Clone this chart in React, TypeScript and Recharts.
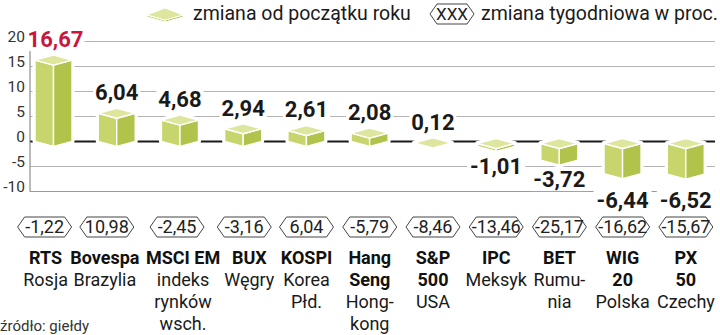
import React from "react";
import { BarChart, Bar, XAxis, YAxis, CartesianGrid, LabelList } from "recharts";

// dane: indeksy giełdowe, zmiana od początku roku i tygodniowa (w proc.)
const categories = ["RTS", "Bovespa", "MSCI EM", "BUX", "KOSPI", "Hang Seng", "S&P 500", "IPC", "BET", "WIG 20", "PX 50"];
const indexLines = [["RTS"], ["Bovespa"], ["MSCI EM"], ["BUX"], ["KOSPI"], ["Hang", "Seng"], ["S&P", "500"], ["IPC"], ["BET"], ["WIG", "20"], ["PX", "50"]];
const countryLines = [["Rosja"], ["Brazylia"], ["indeks", "rynków", "wsch."], ["Węgry"], ["Korea", "Płd."], ["Hong-", "kong"], ["USA"], ["Meksyk"], ["Rumu-", "nia"], ["Polska"], ["Czechy"]];
const ytdChange = [16.67, 6.04, 4.68, 2.94, 2.61, 2.08, 0.12, -1.01, -3.72, -6.44, -6.52];
const weeklyChange = [-1.22, 10.98, -2.45, -3.16, 6.04, -5.79, -8.46, -13.46, -25.17, -16.62, -15.67];
const yTicks = [-10, -5, 0, 5, 10, 15, 20];
const highlighted = "RTS";

// layout
const W = 720;
const H = 335;
const TOP = 41.5;
const PLOT_H = 150;
const PLOT_BOTTOM = TOP + PLOT_H;
const ZERO_Y = TOP + (20 / 30) * PLOT_H;
const FONT = "Roboto, 'Noto Sans', sans-serif";

// przesunięcia podpisów, żeby się nie nakładały
const tickNudge: Record<string, { hex: number; text: number }> = {
  RTS: { hex: -9, text: -8 },
  Bovespa: { hex: -10, text: -12 },
  "MSCI EM": { hex: -3, text: 3 },
  BUX: { hex: 1, text: 6 },
};

const fmt = (v: number) => v.toFixed(2).replace(".", ",");

const chartData = categories.map((name, i) => ({ name, ytd: ytdChange[i] }));

const C_TOP = "#dde69c";
const C_LEFT = "#c7d56c";
const C_RIGHT = "#b1c34b";

function Box3D(props: any) {
  const { x, y, width, height } = props;
  if (x == null || y == null) return null;
  const h = height || 0;
  const cx = x + width / 2;
  const top = Math.min(y, y + h);
  const bottom = Math.max(y, y + h);
  const ft = top + 7;
  const fb = Math.max(bottom + 5, ft);
  const l = x;
  const r = x + width;
  const outline = `${l},${ft - 5} ${cx},${ft - 10} ${r},${ft - 5} ${r},${fb - 5} ${cx},${fb} ${l},${fb - 5}`;
  return (
    <g>
      <polygon points={outline} fill="#fff" stroke="#fff" strokeWidth={5} strokeLinejoin="round" />
      <g stroke="#fff" strokeWidth={1.4} strokeLinejoin="round">
        <polygon points={`${l},${ft - 5} ${cx},${ft} ${cx},${fb} ${l},${fb - 5}`} fill={C_LEFT} />
        <polygon points={`${cx},${ft} ${r},${ft - 5} ${r},${fb - 5} ${cx},${fb}`} fill={C_RIGHT} />
        <polygon points={`${l},${ft - 5} ${cx},${ft - 10} ${r},${ft - 5} ${cx},${ft}`} fill={C_TOP} />
      </g>
    </g>
  );
}

function ValueLabel(props: any) {
  const { x, y, width, height, value, index } = props;
  if (x == null || value == null) return null;
  const h = height || 0;
  const top = Math.min(y, y + h);
  const bottom = Math.max(y, y + h);
  let base: number;
  if (value >= 0) {
    base = top - 11;
  } else {
    base = bottom + 27;
    if (base - 15 < PLOT_BOTTOM + 1 && base > PLOT_BOTTOM - 2) base = PLOT_BOTTOM + 16;
  }
  const txt = fmt(value);
  const tw = txt.length * 10.8;
  const isHot = categories[index] === highlighted;
  const cx = x + width / 2 + (isHot ? 2 : 0);
  return (
    <g>
      <rect x={cx - tw / 2 - 2} y={base - 17} width={tw + 4} height={21} fill="#fff" />
      <text
        x={cx}
        y={base}
        textAnchor="middle"
        fontFamily={FONT}
        fontWeight={700}
        fontSize={22}
        fill={isHot ? "#c8173f" : "#1a1a1a"}
      >
        {txt}
      </text>
    </g>
  );
}

function Hexagon({ cx, cy, w, h, label, size }: any) {
  const p = 7;
  const pts = `${cx - w / 2},${cy} ${cx - w / 2 + p},${cy - h / 2} ${cx + w / 2 - p},${cy - h / 2} ${cx + w / 2},${cy} ${cx + w / 2 - p},${cy + h / 2} ${cx - w / 2 + p},${cy + h / 2}`;
  return (
    <g>
      <polygon points={pts} fill="#fff" stroke="#444" strokeWidth={1} />
      <text x={cx} y={cy + size * 0.36} textAnchor="middle" fontFamily={FONT} fontSize={size} fill="#222">
        {label}
      </text>
    </g>
  );
}

function CategoryTick(props: any) {
  const { x, y, index } = props;
  const name = categories[index];
  const nudge = tickNudge[name] || { hex: 0, text: 0 };
  const bold = indexLines[index];
  const light = countryLines[index];
  const tx = x + nudge.text;
  return (
    <g>
      <Hexagon cx={x + nudge.hex} cy={y + 35.5} w={54} h={20} label={fmt(weeklyChange[index])} size={18} />
      {bold.map((s, i) => (
        <text key={"b" + i} x={tx} y={y + 72.5 + i * 22} textAnchor="middle" fontFamily={FONT} fontWeight={700} fontSize={18} fill="#111">
          {s}
        </text>
      ))}
      {light.map((s, i) => (
        <text key={"l" + i} x={tx} y={y + 72.5 + (bold.length + i) * 22} textAnchor="middle" fontFamily={FONT} fontSize={18} fill="#1a1a1a">
          {s}
        </text>
      ))}
    </g>
  );
}

function ValueTick(props: any) {
  const { y, payload } = props;
  return (
    <text x={25} y={y + 0.5} textAnchor="end" fontFamily={FONT} fontSize={15.5} fill="#333">
      {payload.value}
    </text>
  );
}

function GridLine(props: any) {
  const { x1, x2, y1 } = props;
  const isZero = Math.abs(y1 - ZERO_Y) < 1;
  const isBottom = Math.abs(y1 - PLOT_BOTTOM) < 1;
  return (
    <line
      x1={x1}
      x2={x2}
      y1={y1}
      y2={y1}
      stroke={isZero ? "#1a1a1a" : isBottom ? "#999" : "#b4b4b4"}
      strokeWidth={isZero ? 2 : 1.2}
    />
  );
}

export default function App() {
  return (
    <div style={{ position: "absolute", left: 0, top: 0, width: W, height: H, background: "#fff" }}>
      <BarChart width={W} height={H} data={chartData} margin={{ top: TOP, right: 5, left: 0, bottom: 0 }}>
        <CartesianGrid vertical={false} horizontal={GridLine as any} />
        <XAxis
          dataKey="name"
          interval={0}
          axisLine={false}
          tickLine={false}
          tickSize={0}
          tickMargin={0}
          height={H - PLOT_BOTTOM}
          padding={{ left: -8, right: -2.5 }}
          tick={<CategoryTick />}
        />
        <YAxis
          domain={[-10, 20]}
          ticks={yTicks}
          interval={0}
          width={30}
          axisLine={{ stroke: "#777", strokeWidth: 1 }}
          tickLine={false}
          tick={<ValueTick />}
        />
        <Bar dataKey="ytd" barSize={37} shape={<Box3D />} isAnimationActive={false}>
          <LabelList dataKey="ytd" content={<ValueLabel />} />
        </Bar>
      </BarChart>
      <svg width={W} height={H} style={{ position: "absolute", left: 0, top: 0, pointerEvents: "none" }}>
        <g stroke="#fff" strokeWidth={1} strokeLinejoin="round">
          <polygon points="147,15 165,20 165,22 147,17" fill={C_LEFT} />
          <polygon points="165,20 183,15 183,17 165,22" fill={C_RIGHT} />
          <polygon points="147,15 165,8 183,15 165,20" fill={C_TOP} />
        </g>
        <text x={193} y={20} fontFamily={FONT} fontSize={19.5} fill="#1a1a1a">
          zmiana od początku roku
        </text>
        <Hexagon cx={452} cy={14} w={44} h={20} label="XXX" size={17} />
        <text x={481} y={20} fontFamily={FONT} fontSize={19.5} fill="#1a1a1a">
          zmiana tygodniowa w proc.
        </text>
        <text x={0} y={331} fontFamily={FONT} fontSize={15} fill="#333">
          źródło: giełdy
        </text>
      </svg>
    </div>
  );
}
